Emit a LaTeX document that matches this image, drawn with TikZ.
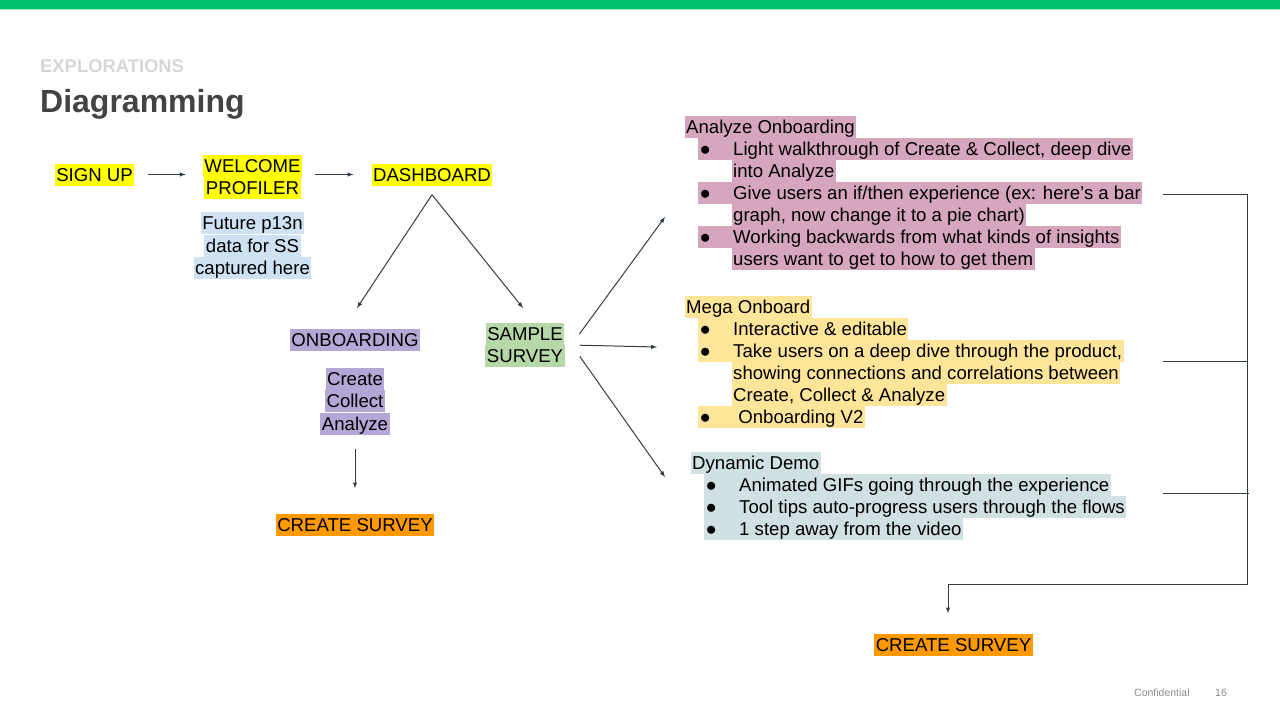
\documentclass[tikz,border=0pt]{standalone}
\usepackage{fontspec}
\setmainfont{Liberation Sans}
\usetikzlibrary{shapes,arrows,positioning}

\definecolor{topgreen}{HTML}{00BF6F}
\definecolor{topline}{HTML}{A8EBCB}
\definecolor{kickergray}{HTML}{D6D6D6}
\definecolor{titlegray}{HTML}{434343}
\definecolor{footgray}{HTML}{8A8A8A}
\definecolor{arrowgray}{HTML}{343C46}
\definecolor{hlyellow}{HTML}{FFFF00}
\definecolor{hlblue}{HTML}{CFE2F3}
\definecolor{hlpurple}{HTML}{B4A7D6}
\definecolor{hlorange}{HTML}{FF9900}
\definecolor{hlgreen}{HTML}{B6D7A8}
\definecolor{hlpink}{HTML}{D5A6BD}
\definecolor{hlsand}{HTML}{FFE599}
\definecolor{hlteal}{HTML}{D0E0E3}

\newcommand{\itemdot}{\makebox[33.5pt][l]{●}}

\begin{document}
\begin{tikzpicture}[x=1pt,y=-1pt]
    \tikzset{
        chip/.style = {inner xsep=1.5pt, inner ysep=0pt, text height=17.5pt, text depth=4.5pt, font=\fontsize{18.6}{22}\selectfont},
        row/.style = {chip, anchor=west},
        line/.style = {draw=arrowgray, line width=1pt, -latex},
        rail/.style = {draw=arrowgray, line width=1pt},
        foot/.style = {inner sep=0pt, anchor=base west, text=footgray, font=\fontsize{10.5}{12}\selectfont},
    }

    \useasboundingbox (0,0) rectangle (1280,720);
    \fill[topgreen] (0,0) rectangle (1280,8.5);
    \fill[topline] (0,8.5) rectangle (1280,10);

    \node[inner sep=0pt, anchor=base west, text=kickergray, font=\fontsize{18.4}{22}\selectfont\bfseries](kicker) at (40,72){EXPLORATIONS};
    \node[inner sep=0pt, anchor=base west, text=titlegray, font=\fontsize{32}{36}\selectfont\bfseries](title) at (40,112){Diagramming};

    \node[chip, fill=hlyellow](signup) at (94.5,174.5){SIGN UP};

    \node[chip, fill=hlyellow](welcome) at (252.5,165.5){WELCOME};
    \node[chip, fill=hlyellow](profiler)[below=0pt of welcome]{PROFILER};

    \node[chip, fill=hlyellow](dashboard) at (432,174.5){DASHBOARD};

    \node[chip, fill=hlblue](future)[below=13pt of profiler]{Future p13n};
    \node[chip, fill=hlblue](data)[below=0pt of future]{data for SS};
    \node[chip, fill=hlblue](captured)[below=0pt of data]{captured here};

    \node[chip, fill=hlpurple](onboarding) at (355,339.5){ONBOARDING};
    \node[chip, fill=hlpurple](create) at (355,379){Create};
    \node[chip, fill=hlpurple](collect)[below=0pt of create]{Collect};
    \node[chip, fill=hlpurple](analyze)[below=0pt of collect]{Analyze};

    \node[chip, fill=hlorange](createsurvey) at (355,524.5){CREATE SURVEY};

    \node[chip, fill=hlgreen](sample) at (525,334){SAMPLE};
    \node[chip, fill=hlgreen](survey)[below=0pt of sample]{SURVEY};

    \node[row, fill=hlpink](ao) at (684.5,126.5){Analyze Onboarding};
    \node[row, fill=hlpink](ao1) at (698,149){\itemdot Light walkthrough of Create \& Collect, deep dive};
    \node[row, fill=hlpink](ao2) at (731.5,171){into Analyze};
    \node[row, fill=hlpink](ao3) at (698,193){\itemdot Give users an if/then experience (ex: here’s a bar};
    \node[row, fill=hlpink](ao4) at (731.5,215){graph, now change it to a pie chart)};
    \node[row, fill=hlpink](ao5) at (698,237){\itemdot Working backwards from what kinds of insights};
    \node[row, fill=hlpink](ao6) at (731.5,259){users want to get to how to get them};

    \node[row, fill=hlsand](mo) at (684.5,307){Mega Onboard};
    \node[row, fill=hlsand](mo1) at (698,329){\itemdot Interactive \& editable};
    \node[row, fill=hlsand](mo2) at (698,351){\itemdot Take users on a deep dive through the product,};
    \node[row, fill=hlsand](mo3) at (731.5,373){showing connections and correlations between};
    \node[row, fill=hlsand](mo4) at (731.5,395){Create, Collect \& Analyze};
    \node[row, fill=hlsand](mo5) at (698,417){\itemdot\ Onboarding V2};

    \node[row, fill=hlteal](dd) at (690.5,463){Dynamic Demo};
    \node[row, fill=hlteal](dd1) at (704,485){\itemdot Animated GIFs going through the experience};
    \node[row, fill=hlteal](dd2) at (704,507){\itemdot Tool tips auto-progress users through the flows};
    \node[row, fill=hlteal](dd3) at (704,529){\itemdot 1 step away from the video};

    \node[chip, fill=hlorange](finalsurvey) at (953.5,644.5){CREATE SURVEY};

    \node[foot](confidential) at (1134,696){Confidential};
    \node[foot](pagenum) at (1215,696){16};

    \coordinate (fork) at ([yshift=-9pt]dashboard.south);
    \coordinate (onbtip) at (357,308);
    \coordinate (samtip) at (523,308);
    \coordinate (aotip) at (665,217);
    \coordinate (motip) at (657,347);
    \coordinate (ddtip) at (665,477);
    \coordinate (railtop) at (1247,194);
    \coordinate (railbot) at (1247,584);
    \coordinate (aojoin) at ([xshift=-84pt]railtop);
    \coordinate (mojoin) at ([xshift=-84pt]railtop |- mo3.north);
    \coordinate (ddjoin) at ([xshift=-84pt,yshift=-8pt]railtop |- dd1.east);

    \path [line] ([xshift=14pt]signup.east) -- ([xshift=-17pt]signup.east -| welcome.west);
    \path [line] ([xshift=13pt]welcome.east |- dashboard.west) -- ([xshift=-18pt]dashboard.west);
    \path [line] (fork) -- (onbtip);
    \path [line] (fork) -- (samtip);
    \path [line] ([yshift=-14pt]analyze.south) -- ([yshift=25pt]createsurvey.north);
    \path [line] ([xshift=15pt]sample.east) -- (aotip);
    \path [line] ([xshift=15pt]survey.north east) -- (motip);
    \path [line] ([xshift=15pt]survey.east) -- (ddtip);
    \path [line] (aojoin) -- (railtop) -- (railbot) -| ([xshift=-5.5pt,yshift=20pt]finalsurvey.north);
    \path [rail] (mojoin) -- (railtop |- mojoin);
    \path [rail] (ddjoin) -- ([xshift=2pt]railtop |- ddjoin);

\end{tikzpicture}
\end{document}
